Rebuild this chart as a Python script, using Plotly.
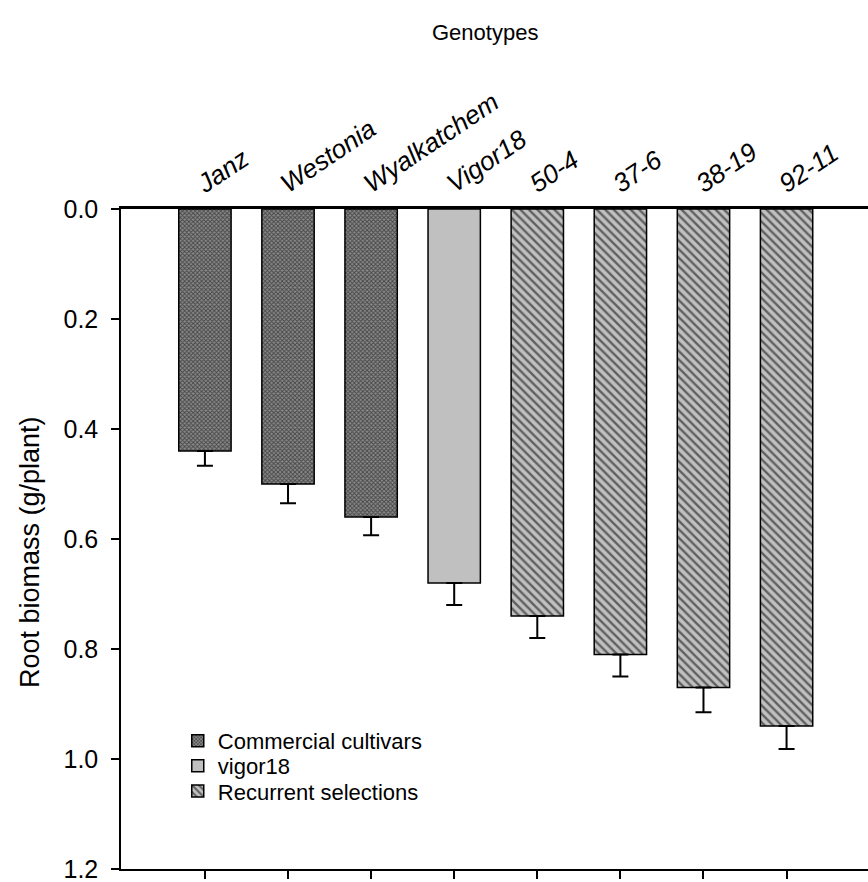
import plotly.graph_objects as go

# Root biomass per genotype (g/plant) and standard errors
genotypes = ["Janz", "Westonia", "Wyalkatchem", "Vigor18", "50-4", "37-6", "38-19", "92-11"]
groups = ["Commercial cultivars", "Commercial cultivars", "Commercial cultivars", "vigor18",
          "Recurrent selections", "Recurrent selections", "Recurrent selections", "Recurrent selections"]
root_biomass = [0.44, 0.50, 0.56, 0.68, 0.74, 0.81, 0.87, 0.94]
std_error = [0.027, 0.035, 0.033, 0.04, 0.04, 0.04, 0.045, 0.042]
y_ticks = [0.0, 0.2, 0.4, 0.6, 0.8, 1.0, 1.2]

FONT = "Arial, Liberation Sans, sans-serif"

group_order = ["Commercial cultivars", "vigor18", "Recurrent selections"]
group_styles = {
    "Commercial cultivars": dict(color="#8a8a8a",
                                 pattern=dict(shape="x", fgcolor="#000000", bgcolor="#8a8a8a",
                                              size=3, solidity=0.5)),
    "vigor18": dict(color="#c0c0c0"),
    "Recurrent selections": dict(color="#c0c0c0",
                                 pattern=dict(shape="\\", fgcolor="#000000", bgcolor="#c0c0c0",
                                              size=6, solidity=0.4)),
}
legend_ids = ["legend", "legend2", "legend3"]

fig = go.Figure()
for grp, leg in zip(group_order, legend_ids):
    idx = [i for i, g in enumerate(groups) if g == grp]
    st = group_styles[grp]
    marker = dict(color=st["color"], line=dict(color="black", width=1.5))
    if "pattern" in st:
        marker["pattern"] = st["pattern"]
    fig.add_trace(go.Bar(
        x=[genotypes[i] for i in idx],
        y=[root_biomass[i] for i in idx],
        width=0.63,
        name=grp,
        legend=leg,
        marker=marker,
        error_y=dict(type="data", array=[std_error[i] for i in idx], arrayminus=[0] * len(idx),
                     symmetric=False, color="black", thickness=2, width=8),
        hoverinfo="x+y",
    ))

# invisible helper trace so the bottom axis with tick marks is drawn
fig.add_trace(go.Scatter(x=genotypes, y=root_biomass, xaxis="x2", mode="markers",
                         marker=dict(opacity=0), showlegend=False, hoverinfo="skip"))

legend_style = dict(x=0.076, xanchor="left", yanchor="middle",
                    font=dict(family=FONT, size=22, color="black"),
                    bgcolor="rgba(0,0,0,0)")

fig.update_layout(
    width=868, height=882,
    margin=dict(l=121, r=0, t=209, b=13),
    paper_bgcolor="white", plot_bgcolor="white",
    barmode="overlay",
    font=dict(family=FONT, size=22, color="black"),
    showlegend=True,
    legend=dict(y=0.194, **legend_style),
    legend2=dict(y=0.156, **legend_style),
    legend3=dict(y=0.118, **legend_style),
    xaxis=dict(side="top", type="category", categoryorder="array", categoryarray=genotypes,
               range=[-1.01, 7.98], showline=True, linecolor="black", linewidth=2.5,
               ticks="", showgrid=False, zeroline=False, tickangle=-34,
               ticklabelshift=-7,
               tickfont=dict(family=FONT, size=26, style="italic")),
    xaxis2=dict(overlaying="x", side="bottom", anchor="y", type="category",
                categoryorder="array", categoryarray=genotypes,
                range=[-1.01, 7.98], showline=True, linecolor="black", linewidth=2,
                ticks="outside", ticklen=8, tickwidth=2, tickcolor="black",
                showticklabels=False, showgrid=False, zeroline=False),
    yaxis=dict(range=[1.2, 0.0], tickvals=y_ticks, tickformat=".1f",
               showline=True, linecolor="black", linewidth=1.5,
               ticks="outside", ticklen=8, tickwidth=1.5, tickcolor="black",
               showgrid=False, zeroline=False, ticklabelstandoff=8,
               ticklabeloverflow="allow",
               tickfont=dict(family=FONT, size=25)),
    annotations=[
        dict(text="Genotypes", xref="paper", yref="paper", x=0.487, y=1.268,
             xanchor="center", yanchor="middle", showarrow=False,
             font=dict(family=FONT, size=22, color="black")),
        dict(text="Root biomass (g/plant)", xref="paper", yref="paper", x=-0.122, y=0.48,
             xanchor="center", yanchor="middle", textangle=-90, showarrow=False,
             font=dict(family=FONT, size=27, color="black")),
    ],
)

fig.write_html("out.html")
